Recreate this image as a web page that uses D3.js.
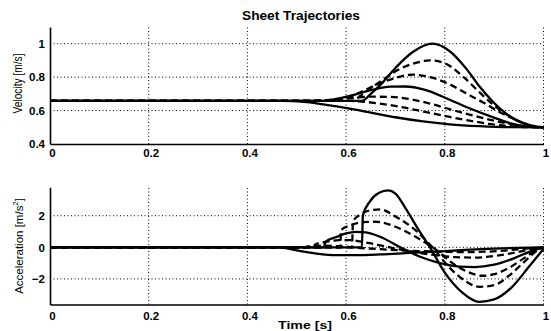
<!DOCTYPE html>
<html>
<head>
<meta charset="utf-8">
<script src="https://cdn.jsdelivr.net/npm/d3@7"></script>
<style>
  body { margin: 0; background: #fff; }
  svg { display: block; font-family: "Liberation Sans", Arial, sans-serif; }
</style>
</head>
<body>
<div id="chart"></div>
<script>
// tick values
const timeTicks = [0, 0.2, 0.4, 0.6, 0.8, 1];
const velTicks = [0.4, 0.6, 0.8, 1];
const accTicks = [-2, 0, 2];

// velocity trajectories [t, v] (top to bottom)
const vel1 = [[0,0.658],[0.632,0.658],[0.65,0.70],[0.67,0.755],[0.70,0.855],[0.735,0.95],[0.775,1.0],[0.81,0.955],[0.845,0.845],[0.87,0.745],[0.9,0.645],[0.925,0.58],[0.95,0.535],[0.975,0.508],[1,0.5]];
const vel2 = [[0,0.658],[0.612,0.658],[0.63,0.69],[0.66,0.755],[0.68,0.795],[0.70,0.835],[0.735,0.88],[0.77,0.9],[0.80,0.883],[0.84,0.795],[0.87,0.71],[0.9,0.63],[0.93,0.567],[0.96,0.525],[0.985,0.503],[1,0.5]];
const vel3 = [[0,0.658],[0.588,0.658],[0.61,0.685],[0.64,0.725],[0.67,0.765],[0.70,0.795],[0.735,0.815],[0.77,0.80],[0.81,0.757],[0.845,0.70],[0.88,0.645],[0.91,0.593],[0.94,0.55],[0.97,0.515],[1,0.5]];
const vel4 = [[0,0.658],[0.555,0.658],[0.58,0.67],[0.61,0.69],[0.65,0.722],[0.69,0.743],[0.72,0.744],[0.76,0.724],[0.81,0.665],[0.85,0.614],[0.89,0.568],[0.93,0.527],[0.97,0.504],[1,0.5]];
const vel5 = [[0,0.658],[0.535,0.658],[0.57,0.665],[0.61,0.676],[0.65,0.683],[0.69,0.682],[0.73,0.668],[0.77,0.642],[0.81,0.608],[0.85,0.576],[0.89,0.546],[0.93,0.521],[0.97,0.504],[1,0.5]];
const vel6 = [[0,0.658],[0.515,0.658],[0.56,0.661],[0.61,0.658],[0.66,0.645],[0.71,0.622],[0.76,0.592],[0.81,0.562],[0.85,0.54],[0.89,0.52],[0.93,0.507],[0.97,0.501],[1,0.5]];
const vel7 = [[0,0.658],[0.47,0.658],[0.52,0.65],[0.56,0.634],[0.61,0.61],[0.65,0.588],[0.70,0.56],[0.756,0.535],[0.81,0.518],[0.87,0.507],[0.93,0.501],[1,0.5]];

// acceleration trajectories [t, a]
const acc1 = [[0,0],[0.632,0],[0.634,2.0],[0.648,2.9],[0.667,3.45],[0.685,3.6],[0.70,3.4],[0.72,2.5],[0.745,1.2],[0.77,0],[0.80,-1.6],[0.835,-2.85],[0.87,-3.45],[0.9,-3.3],[0.935,-2.55],[0.97,-1.25],[1,-0.1]];
const acc2 = [[0,0],[0.612,0],[0.614,1.65],[0.63,2.1],[0.65,2.35],[0.67,2.4],[0.70,1.95],[0.74,1.1],[0.775,0],[0.81,-1.3],[0.84,-2.1],[0.87,-2.5],[0.9,-2.4],[0.93,-1.8],[0.96,-0.95],[0.99,-0.15],[1,0]];
const acc3 = [[0,0],[0.588,0],[0.59,1.1],[0.61,1.4],[0.635,1.6],[0.66,1.62],[0.70,1.3],[0.74,0.68],[0.78,-0.1],[0.82,-1.1],[0.85,-1.6],[0.875,-1.8],[0.9,-1.7],[0.93,-1.3],[0.96,-0.7],[0.99,-0.1],[1,0]];
const acc4 = [[0,0],[0.555,0],[0.558,0.35],[0.58,0.65],[0.60,0.88],[0.62,0.98],[0.64,0.95],[0.67,0.65],[0.71,0],[0.75,-0.6],[0.79,-1.0],[0.83,-1.22],[0.86,-1.25],[0.9,-1.1],[0.94,-0.7],[0.97,-0.3],[1,0]];
const acc5 = [[0,0],[0.535,0],[0.537,0.18],[0.56,0.35],[0.585,0.45],[0.61,0.45],[0.64,0.3],[0.68,0.05],[0.72,-0.2],[0.77,-0.45],[0.82,-0.62],[0.86,-0.65],[0.9,-0.55],[0.94,-0.35],[0.97,-0.15],[1,0]];
const acc6 = [[0,0],[0.515,0],[0.52,0.05],[0.55,0.1],[0.58,0.08],[0.62,-0.02],[0.67,-0.12],[0.72,-0.2],[0.78,-0.27],[0.84,-0.3],[0.89,-0.27],[0.93,-0.18],[0.97,-0.07],[1,0]];
const acc7 = [[0,0],[0.465,0],[0.5,-0.2],[0.54,-0.4],[0.58,-0.5],[0.62,-0.5],[0.67,-0.45],[0.72,-0.37],[0.78,-0.27],[0.84,-0.17],[0.9,-0.08],[0.95,-0.03],[1,0]];

const velocity = [vel1, vel2, vel3, vel4, vel5, vel6, vel7];
const acceleration = [acc1, acc2, acc3, acc4, acc5, acc6, acc7];
const dashed = [false, true, true, false, true, true, false];

const width = 551, height = 331;
const svg = d3.select("#chart").append("svg")
    .attr("width", width)
    .attr("height", height);

const x = d3.scaleLinear().domain([0, 1]).range([50, 543.5]);
const yVel = d3.scaleLinear().domain([0.4, 1.1]).range([144, 27]);
const yAcc = d3.scaleLinear().domain([-3.62, 3.8]).range([304.5, 187.3]);

function drawPanel(y, yTicks, series, fmt, xPad) {
    const g = svg.append("g");
    const [y0, y1] = y.range();

    // dotted grid
    g.selectAll(".vgrid")
        .data(timeTicks.filter(d => d > 0))
        .enter().append("line")
        .attr("x1", d => x(d)).attr("x2", d => x(d))
        .attr("y1", y0).attr("y2", y1)
        .attr("stroke", "#000").attr("stroke-width", 1)
        .attr("stroke-dasharray", "1,2.5");
    g.selectAll(".hgrid")
        .data(yTicks.filter(d => y(d) < y0 - 1))
        .enter().append("line")
        .attr("x1", x(0)).attr("x2", x(1))
        .attr("y1", d => y(d)).attr("y2", d => y(d))
        .attr("stroke", "#000").attr("stroke-width", 1)
        .attr("stroke-dasharray", "1,2.5");

    // axes
    const xAxis = g.append("g")
        .attr("transform", `translate(0,${y0})`)
        .call(d3.axisBottom(x).tickValues(timeTicks).tickSize(0).tickPadding(xPad)
            .tickFormat(d => d === 0 ? "0" : d === 1 ? "1" : d3.format(".1f")(d)));
    const yAxis = g.append("g")
        .attr("transform", `translate(${x(0)},0)`)
        .call(d3.axisLeft(y).tickValues(yTicks).tickSize(0).tickPadding(5)
            .tickFormat(fmt));
    [xAxis, yAxis].forEach(a => {
        a.select(".domain").attr("stroke", "#000").attr("stroke-width", 1.6);
        a.selectAll("text")
            .attr("fill", "#000")
            .attr("font-size", 11.5)
            .attr("font-weight", "bold")
            .attr("font-family", "Liberation Sans, Arial, sans-serif");
    });
    xAxis.selectAll("text").attr("dx", 2);

    // curves
    const line = d3.line()
        .x(d => x(d[0]))
        .y(d => y(d[1]))
        .curve(d3.curveMonotoneX);
    g.selectAll(".curve")
        .data(series)
        .enter().append("path")
        .attr("d", line)
        .attr("fill", "none")
        .attr("stroke", "#000")
        .attr("stroke-width", 2.3)
        .attr("stroke-dasharray", (d, i) => dashed[i] ? "7,4" : null);
}

drawPanel(yVel, velTicks, velocity, d => d === 1 ? "1" : d3.format(".1f")(d), 5);
drawPanel(yAcc, accTicks, acceleration, d => d < 0 ? "\u2212" + Math.abs(d) : String(d), 7);

// titles
svg.append("text")
    .attr("x", 301).attr("y", 20)
    .attr("text-anchor", "middle")
    .attr("font-size", 12.5).attr("font-weight", "bold")
    .attr("textLength", 118).attr("lengthAdjust", "spacingAndGlyphs")
    .text("Sheet Trajectories");

svg.append("text")
    .attr("x", 305).attr("y", 329)
    .attr("text-anchor", "middle")
    .attr("font-size", 11.5).attr("font-weight", "bold")
    .attr("textLength", 54).attr("lengthAdjust", "spacingAndGlyphs")
    .text("Time [s]");

svg.append("text")
    .attr("transform", `translate(22,${(yVel(0.4) + yVel(1.1)) / 2 - 2}) rotate(-90)`)
    .attr("text-anchor", "middle")
    .attr("font-size", 12.5)
    .attr("textLength", 60).attr("lengthAdjust", "spacingAndGlyphs")
    .text("Velocity [m/s]");

const accLabel = svg.append("text")
    .attr("transform", `translate(23,${(yAcc(-3.62) + yAcc(3.8)) / 2}) rotate(-90)`)
    .attr("text-anchor", "middle")
    .attr("font-size", 11.5);
accLabel.append("tspan").text("Acceleration [m/s");
accLabel.append("tspan").attr("font-size", 8).attr("dy", -5).text("2");
accLabel.append("tspan").attr("dy", 5).text("]");
</script>
</body>
</html>
